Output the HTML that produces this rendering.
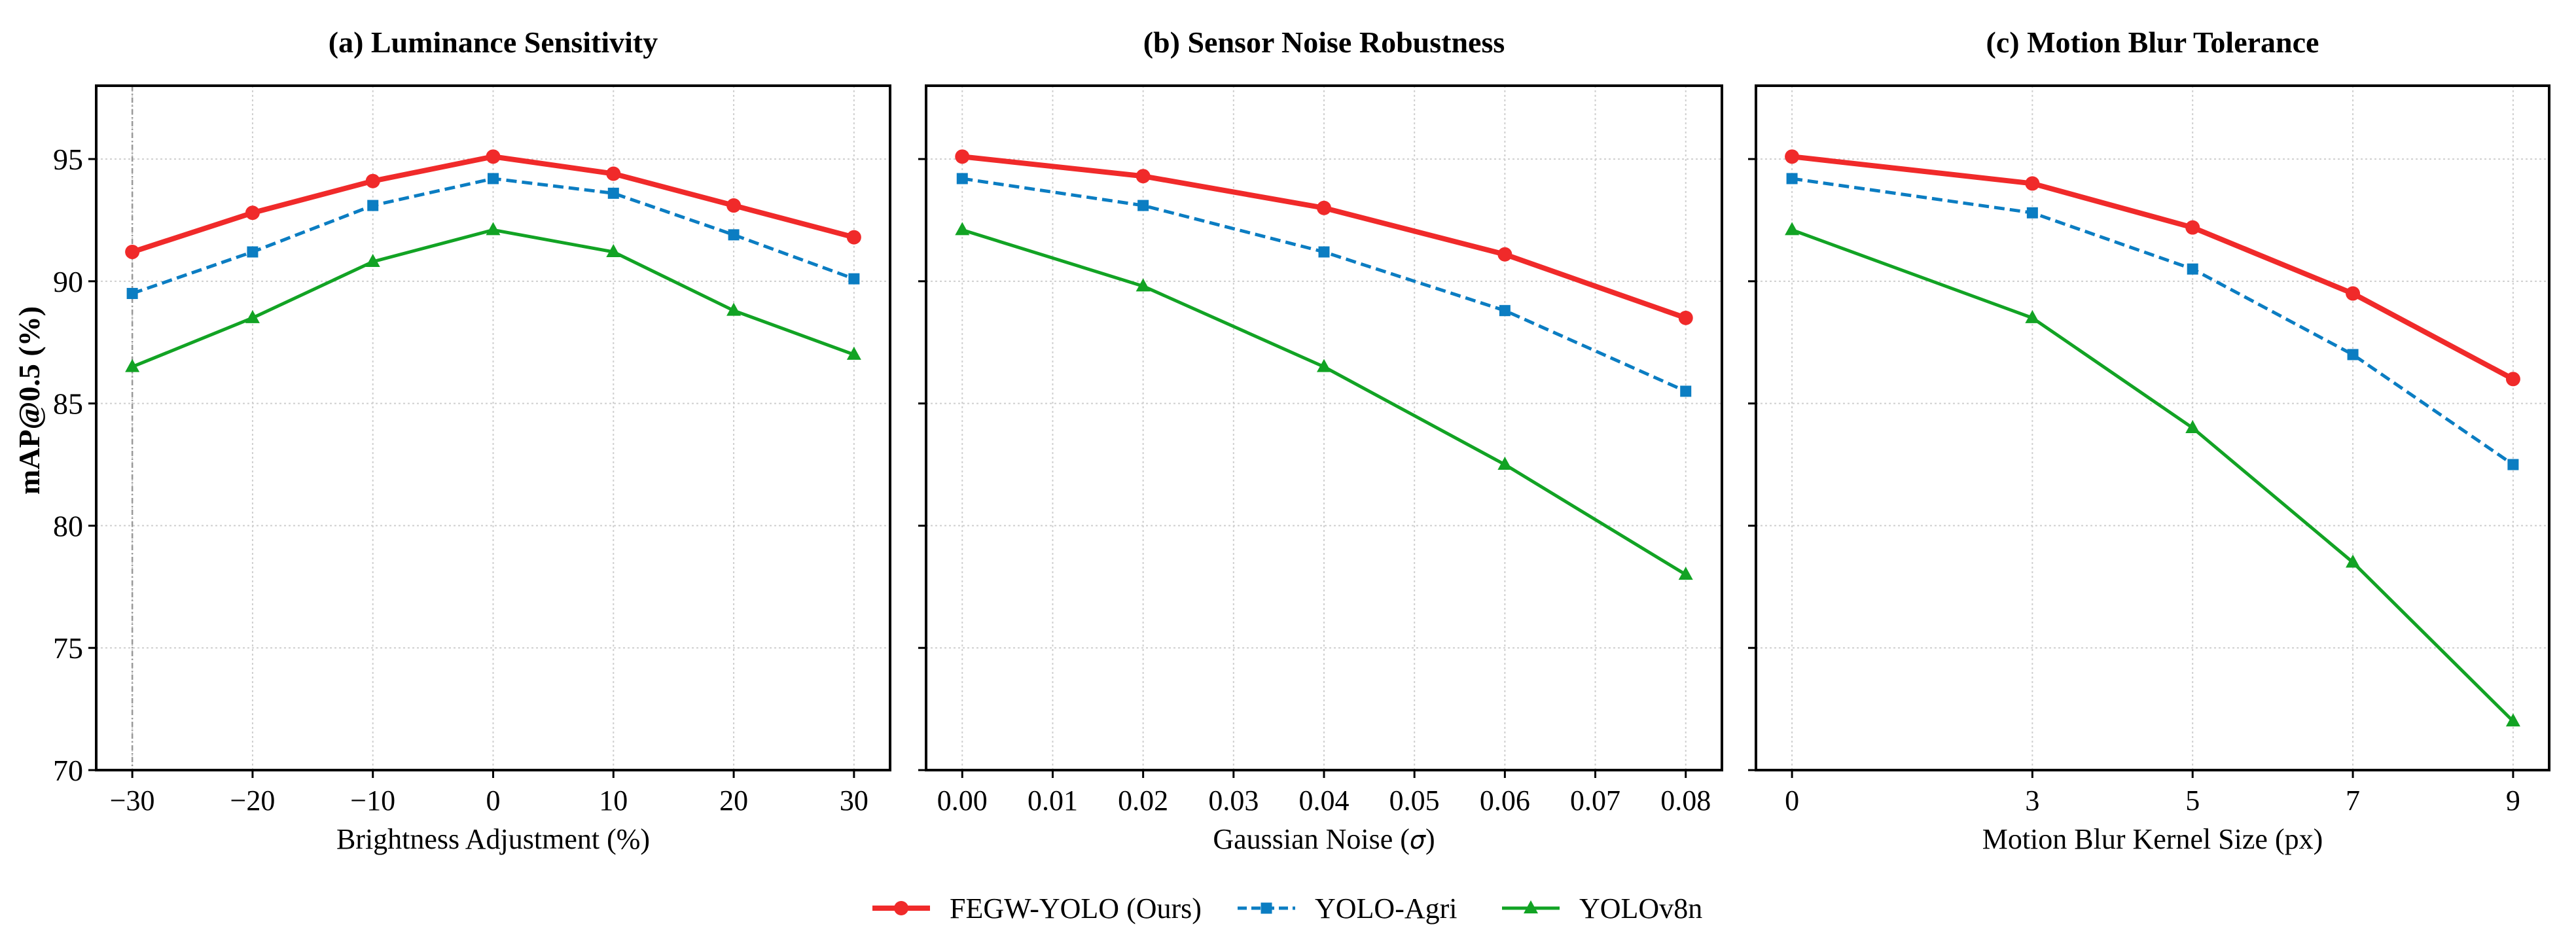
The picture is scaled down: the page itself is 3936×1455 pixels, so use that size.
<!DOCTYPE html>
<html><head><meta charset="utf-8"><style>
html,body{margin:0;padding:0;background:#fff;}
svg{display:block;font-family:"Liberation Serif",serif;}
</style></head><body>
<svg id="chart" width="3936" height="1455" viewBox="0 0 3936 1455" xmlns="http://www.w3.org/2000/svg"></svg>
<script>
const yTicks = [70, 75, 80, 85, 90, 95];
const aX = [-30, -20, -10, 0, 10, 20, 30];
const aTicks = [-30, -20, -10, 0, 10, 20, 30];
const aFegw = [91.2, 92.8, 94.1, 95.1, 94.4, 93.1, 91.8];
const aAgri = [89.5, 91.2, 93.1, 94.2, 93.6, 91.9, 90.1];
const aV8 = [86.5, 88.5, 90.8, 92.1, 91.2, 88.8, 87.0];
const bX = [0, 0.02, 0.04, 0.06, 0.08];
const bTicks = [0, 0.01, 0.02, 0.03, 0.04, 0.05, 0.06, 0.07, 0.08];
const bFegw = [95.1, 94.3, 93.0, 91.1, 88.5];
const bAgri = [94.2, 93.1, 91.2, 88.8, 85.5];
const bV8 = [92.1, 89.8, 86.5, 82.5, 78.0];
const cX = [0, 3, 5, 7, 9];
const cTicks = [0, 3, 5, 7, 9];
const cFegw = [95.1, 94.0, 92.2, 89.5, 86.0];
const cAgri = [94.2, 92.8, 90.5, 87.0, 82.5];
const cV8 = [92.1, 88.5, 84.0, 78.5, 72.0];

const NS = "http://www.w3.org/2000/svg";
const svg = document.getElementById('chart');
function mk(tag, attrs, parent) {
  const e = document.createElementNS(NS, tag);
  for (const k in attrs) e.setAttribute(k, attrs[k]);
  (parent || svg).appendChild(e);
  return e;
}
const TOP = 131, BOT = 1177, YMIN = 70, YMAX = 98;
function sy(v) { return BOT - (v - YMIN) / (YMAX - YMIN) * (BOT - TOP); }
const RED = '#f02a2a', BLUE = '#0b7dc2', GREEN = '#12a324';

const panels = [
  {id:'a', L:147, R:1360, xmin:-33, xmax:33, xs:aX, ticks:aTicks, fmt:v=>v<0?'\u2212'+(-v):''+v,
   title:'(a) Luminance Sensitivity', xlabel:'Brightness Adjustment (%)', s:[aFegw,aAgri,aV8], ylab:true},
  {id:'b', L:1415, R:2631, xmin:-0.004, xmax:0.084, xs:bX, ticks:bTicks, fmt:v=>v.toFixed(2),
   title:'(b) Sensor Noise Robustness', xlabel:'Gaussian Noise (', s:[bFegw,bAgri,bV8]},
  {id:'c', L:2683, R:3895, xmin:-0.45, xmax:9.45, xs:cX, ticks:cTicks, fmt:v=>''+v,
   title:'(c) Motion Blur Tolerance', xlabel:'Motion Blur Kernel Size (px)', s:[cFegw,cAgri,cV8]}
];

panels.forEach(p => {
  const g = mk('g', {});
  
  
  const sx = v => p.L + (v - p.xmin) / (p.xmax - p.xmin) * (p.R - p.L);
  yTicks.forEach(t => {
    const l = mk('line', {x1:p.L, x2:p.R, y1:sy(t), y2:sy(t), stroke:'#cfcfcf', 'stroke-width':2, 'stroke-dasharray':'3,4'}, g);
    
    
  });
  p.ticks.forEach(t => {
    const l = mk('line', {x1:sx(t), x2:sx(t), y1:TOP, y2:BOT, stroke:'#cfcfcf', 'stroke-width':2, 'stroke-dasharray':'3,4'}, g);
    
    
  });
  if (p.id === 'a') {
    const v = mk('line', {x1:sx(-30), x2:sx(-30), y1:TOP, y2:BOT, stroke:'#999', 'stroke-width':2.5, 'stroke-dasharray':'8,4,2,4'}, g);
    
    
  }
  const cols = [RED, BLUE, GREEN];
  const names = ['fegw-yolo', 'yolo-agri', 'yolov8n'];
  p.s.forEach((arr, si) => {
    const pts = arr.map((v, i) => sx(p.xs[i]) + ',' + sy(v)).join(' ');
    const pl = mk('polyline', {points:pts, fill:'none', stroke:cols[si], 'stroke-width': si===0?8:5,
      'stroke-dasharray': si===1?'16,8':'none', 'stroke-linejoin':'round'}, g);
    
    
    arr.forEach((v, i) => {
      const x = sx(p.xs[i]), y = sy(v);
      let m;
      if (si === 0) m = mk('circle', {cx:x, cy:y, r:11, fill:RED}, g);
      else if (si === 1) m = mk('rect', {x:x-8.5, y:y-8.5, width:17, height:17, fill:BLUE}, g);
      else m = mk('polygon', {points:`${x},${y-12} ${x-11},${y+8} ${x+11},${y+8}`, fill:GREEN}, g);
      
      
    });
  });
  const f = mk('rect', {x:p.L, y:TOP, width:p.R-p.L, height:BOT-TOP, fill:'none', stroke:'#000', 'stroke-width':4}, g);
  
  
  yTicks.forEach(t => {
    const tk = mk('line', {x1:p.L-12, x2:p.L, y1:sy(t), y2:sy(t), stroke:'#000', 'stroke-width':3}, g);
    
    
    if (p.ylab) {
      const tx = mk('text', {x:p.L-20, y:sy(t)+16, 'text-anchor':'end', 'font-size':46}, g);
      tx.textContent = t;
      
      
    }
  });
  p.ticks.forEach(t => {
    const tk = mk('line', {x1:sx(t), x2:sx(t), y1:BOT, y2:BOT+12, stroke:'#000', 'stroke-width':3}, g);
    
    
    const tx = mk('text', {x:sx(t), y:BOT+61, 'text-anchor':'middle', 'font-size':44}, g);
    tx.textContent = p.fmt(t);
    
    
  });
  const cx = (p.L + p.R) / 2;
  const ti = mk('text', {x:cx, y:80, 'text-anchor':'middle', 'font-size':46, 'font-weight':'bold'}, g);
  ti.textContent = p.title;
  
  
  const xl = mk('text', {x:cx, y:BOT+120, 'text-anchor':'middle', 'font-size':44}, g);
  
  
  if (p.id === 'b') {
    xl.textContent = 'Gaussian Noise (';
    const ts = mk('tspan', {'font-style':'italic', 'font-family':'"DejaVu Sans",sans-serif', 'font-size':38}, xl);
    ts.textContent = 'σ';
    const t2 = mk('tspan', {}, xl);
    t2.textContent = ')';
  } else xl.textContent = p.xlabel;
});

const yl = mk('text', {x:0, y:0, transform:'translate(60,612) rotate(-90)', 'text-anchor':'middle', 'font-size':46, 'font-weight':'bold'});
yl.textContent = 'mAP@0.5 (%)';



const lg = mk('g', {});


const LY = 1388;
const legItems = [
  {x:1377, col:RED, label:'FEGW-YOLO (Ours)', n:'legend-fegw-yolo'},
  {x:1935, col:BLUE, label:'YOLO-Agri', n:'legend-yolo-agri'},
  {x:2339, col:GREEN, label:'YOLOv8n', n:'legend-yolov8n'}
];
legItems.forEach((it, i) => {
  const e = mk('g', {}, lg);
  
  
  mk('line', {x1:it.x-44, x2:it.x+44, y1:LY, y2:LY, stroke:it.col, 'stroke-width': i===0?8:5, 'stroke-dasharray': i===1?'14,7':'none'}, e);
  if (i === 0) mk('circle', {cx:it.x, cy:LY, r:11, fill:RED}, e);
  else if (i === 1) mk('rect', {x:it.x-8.5, y:LY-8.5, width:17, height:17, fill:BLUE}, e);
  else mk('polygon', {points:`${it.x},${LY-12} ${it.x-11},${LY+8} ${it.x+11},${LY+8}`, fill:GREEN}, e);
  const t = mk('text', {x:it.x+74, y:LY+15, 'font-size':44}, e);
  t.textContent = it.label;
});
</script>
</body></html>
